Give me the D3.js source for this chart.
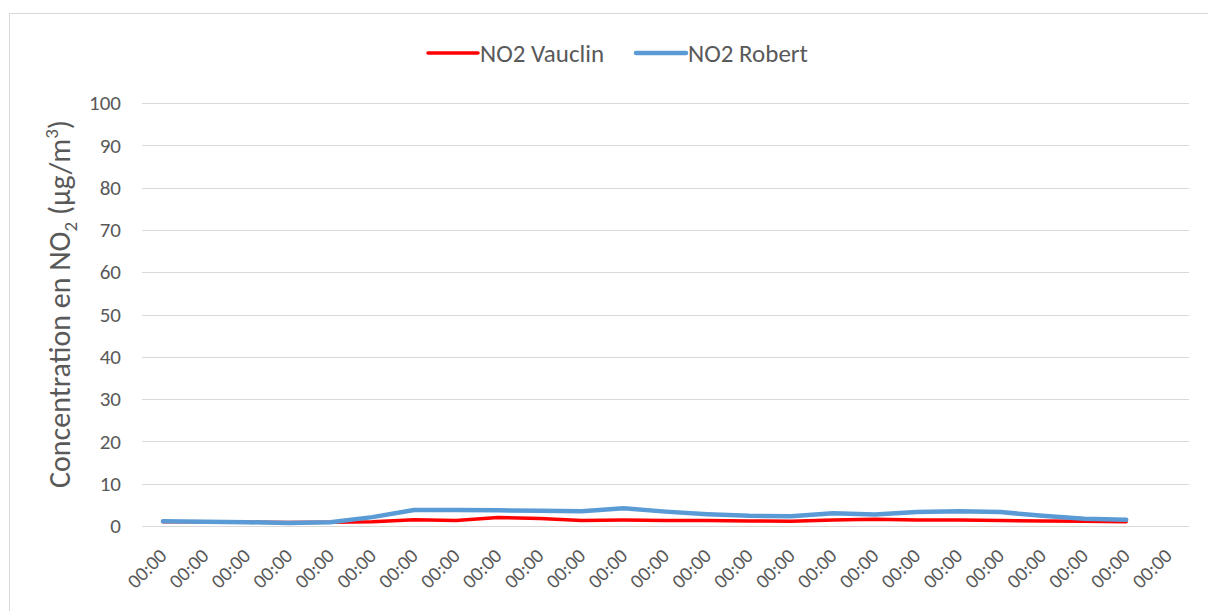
<!DOCTYPE html>
<html>
<head>
<meta charset="utf-8">
<script src="https://cdn.jsdelivr.net/npm/d3@7"></script>
<style>
  body { margin: 0; background: #fff; }
  text { font-family: Calibri, Carlito, Lato, sans-serif; fill: #595959; }
  .grid line { stroke: #d9d9d9; stroke-width: 1; }
</style>
</head>
<body>
<svg id="chart" width="1208" height="611"></svg>
<script>
// tick labels on the category axis (all shown as 00:00 in the original)
const hours = ["00:00", "00:00", "00:00", "00:00", "00:00", "00:00", "00:00", "00:00",
    "00:00", "00:00", "00:00", "00:00", "00:00", "00:00", "00:00", "00:00", "00:00",
    "00:00", "00:00", "00:00", "00:00", "00:00", "00:00", "00:00", "00:00"];

const vauclin = [1.0, 1.0, 0.9, 0.8, 0.9, 1.0, 1.5, 1.3, 2.0, 1.8, 1.3, 1.4,
    1.3, 1.3, 1.2, 1.1, 1.4, 1.6, 1.4, 1.4, 1.3, 1.2, 1.1, 1.0];
const robert = [1.1, 1.0, 0.9, 0.7, 0.9, 2.1, 3.8, 3.8, 3.7, 3.6, 3.5, 4.2,
    3.4, 2.8, 2.4, 2.3, 3.0, 2.7, 3.3, 3.5, 3.3, 2.4, 1.7, 1.5];

const yTicks = [0, 10, 20, 30, 40, 50, 60, 70, 80, 90, 100];

const series = [
    {name: "NO2 Vauclin", values: vauclin, color: "#ff0000", width: 3.5},
    {name: "NO2 Robert", values: robert, color: "#5b9bd5", width: 4.5}
];

const svg = d3.select("#chart"),
    margin = {top: 103, right: 19, bottom: 85, left: 142},
    width = +svg.attr("width"),
    height = +svg.attr("height");

// chart frame
svg.append("rect")
    .attr("x", 9.5).attr("y", 13.5)
    .attr("width", 1220).attr("height", 620)
    .attr("fill", "#fff")
    .attr("stroke", "#d9d9d9");

const x = d3.scaleBand()
    .domain(d3.range(hours.length))
    .range([margin.left, width - margin.right]);

const y = d3.scaleLinear()
    .domain([0, 100])
    .range([height - margin.bottom, margin.top]);

// horizontal gridlines
svg.append("g")
    .attr("class", "grid")
    .selectAll("line")
    .data(yTicks)
    .join("line")
    .attr("x1", margin.left).attr("x2", width - margin.right)
    .attr("y1", d => Math.round(y(d)) + 0.5)
    .attr("y2", d => Math.round(y(d)) + 0.5);

// y axis labels
const yAxis = svg.append("g")
    .attr("transform", "translate(" + (margin.left - 21) + ",0)")
    .call(d3.axisLeft(y).tickValues(yTicks).tickSize(0).tickPadding(0));
yAxis.select(".domain").remove();
yAxis.selectAll("text")
    .attr("font-size", 21)
    .style("font-family", "Calibri, Carlito, Lato, sans-serif")
    .attr("fill", "#595959");

// x axis labels
const xAxis = svg.append("g")
    .attr("transform", "translate(0," + (height - margin.bottom) + ")")
    .call(d3.axisBottom(x).tickFormat(i => hours[i]).tickSize(0));
xAxis.select(".domain").remove();
xAxis.selectAll("text")
    .attr("font-size", 20)
    .style("font-family", "Calibri, Carlito, Lato, sans-serif")
    .attr("fill", "#595959")
    .attr("text-anchor", "end")
    .attr("dy", 0)
    .attr("y", 0)
    .attr("transform", "translate(5,31) rotate(-45)");

// lines
const line = d3.line()
    .x((d, i) => x(i) + x.bandwidth() / 2)
    .y(d => y(d));

svg.append("g")
    .selectAll("path")
    .data(series)
    .join("path")
    .attr("fill", "none")
    .attr("stroke", d => d.color)
    .attr("stroke-width", d => d.width)
    .attr("stroke-linejoin", "round")
    .attr("stroke-linecap", "round")
    .attr("d", d => line(d.values));

// y axis title
const title = svg.append("text")
    .attr("transform", "translate(70,304) rotate(-90)")
    .attr("text-anchor", "middle")
    .attr("font-size", 30);
title.append("tspan").text("Concentration en NO");
title.append("tspan").attr("font-size", 19).attr("dy", 7).text("2");
title.append("tspan").attr("dy", -7).text(" (µg/m");
title.append("tspan").attr("font-size", 19).attr("dy", -12).text("3");
title.append("tspan").attr("dy", 12).text(")");

// legend
const legendX = [428, 636];
const legend = svg.append("g")
    .selectAll("g")
    .data(series)
    .join("g")
    .attr("transform", (d, i) => "translate(" + legendX[i] + ",53)");

legend.append("line")
    .attr("x1", 0).attr("x2", 50)
    .attr("stroke", d => d.color)
    .attr("stroke-width", d => d.width)
    .attr("stroke-linecap", "round");

legend.append("text")
    .attr("x", 52)
    .attr("dy", "0.35em")
    .attr("font-size", 25)
    .text(d => d.name);
</script>
</body>
</html>
